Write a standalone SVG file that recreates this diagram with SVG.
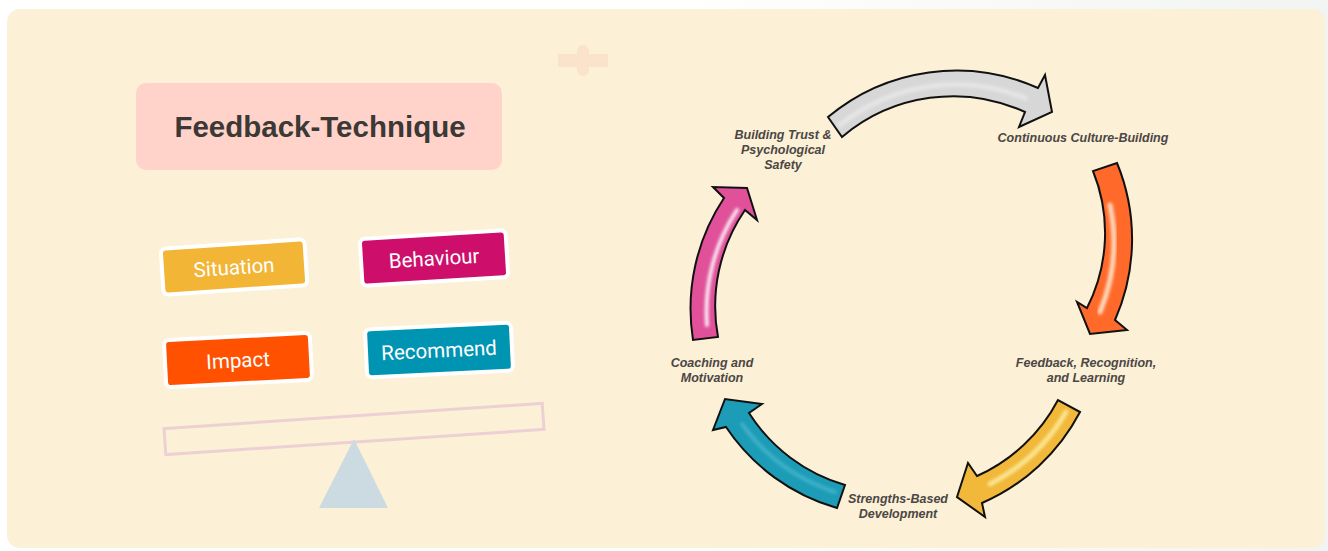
<svg xmlns="http://www.w3.org/2000/svg" width="1328" height="551" viewBox="0 0 1328 551">
<defs>
<linearGradient id="bgGrad" x1="0" y1="0" x2="1" y2="0">
<stop offset="0.5" stop-color="#ffffff"/>
<stop offset="1" stop-color="#f2f3f3"/>
</linearGradient>
<filter id="blur" x="-20%" y="-20%" width="140%" height="140%">
<feGaussianBlur stdDeviation="1.8"/>
</filter>
<style>
.note rect{stroke:#ffffff;stroke-width:4}
.note text{font-family:Roboto,"Liberation Sans",sans-serif;font-size:20.5px;fill:#ffffff;text-anchor:middle}
.lbl{font-family:"Liberation Sans",Arial,sans-serif;font-size:12.5px;font-weight:bold;font-style:italic;fill:#4a4744;text-anchor:middle}
.arrow{stroke:#111111;stroke-width:2;stroke-linejoin:miter}
.hl{fill:none;stroke-linecap:round;filter:url(#blur)}
</style>
</defs>
<rect x="0" y="0" width="1328" height="551" fill="url(#bgGrad)"/>
<rect x="7" y="9" width="1318" height="539" rx="13" fill="#fcf0d7"/>
<g id="plus" fill="#fbe3cb">
<rect x="558" y="54" width="50" height="13"/>
<rect x="577" y="45" width="12" height="31" rx="6"/>
</g>
<g id="title">
<rect x="136" y="83" width="366" height="87" rx="10" fill="#ffd3c9"/>
<text x="320" y="137" font-family="'Liberation Sans',Arial,sans-serif" font-size="29.5" font-weight="bold" fill="#3b3835" text-anchor="middle">Feedback-Technique</text>
</g>
<g id="note-situation" class="note" transform="translate(234,267) rotate(-3.8)">
<rect x="-72" y="-23" width="144" height="46" rx="5" fill="#f2b535"/>
<text x="0" y="7.5">Situation</text>
</g>
<g id="note-behaviour" class="note" transform="translate(434,258) rotate(-3.5)">
<rect x="-73" y="-23.5" width="146" height="47" rx="5" fill="#cd0f6b"/>
<text x="0" y="7.5">Behaviour</text>
</g>
<g id="note-impact" class="note" transform="translate(238,360) rotate(-3)">
<rect x="-73" y="-23.5" width="146" height="47" rx="5" fill="#ff5100"/>
<text x="0" y="7.5">Impact</text>
</g>
<g id="note-recommend" class="note" transform="translate(439,350) rotate(-2.7)">
<rect x="-73" y="-24" width="146" height="48" rx="5" fill="#0094b3"/>
<text x="0" y="7.5">Recommend</text>
</g>
<g id="seesaw">
<rect x="-189.5" y="-13" width="379" height="26" transform="translate(354,429) rotate(-3.8)" fill="none" stroke="#edd0d3" stroke-width="3"/>
<polygon points="354,439 319,508 388,508" fill="#ccdbe1"/>
</g>
<g id="connectors">
<g id="arrow-gray">
<path class="arrow" fill="#d7d7d7" d="M828,117 A200,200 0 0 1 1038,88 L1045,75 L1052,112 L1019,127 L1025,112 A172,172 0 0 0 842,137 Z"/>
<path class="hl" stroke="#ffffff" stroke-opacity="0.35" stroke-width="5" d="M840,125 A186,186 0 0 1 1025,98"/>
</g>
<g id="arrow-orange">
<path class="arrow" fill="#ff6a2a" d="M1117,163 A200,200 0 0 1 1115,320 L1127,330 L1090,334 L1077,302 L1087,308 A165,165 0 0 0 1093,171 Z"/>
<path class="hl" stroke="#fff2dc" stroke-opacity="0.8" stroke-width="5" d="M1110,205 A183,183 0 0 1 1100,312"/>
</g>
<g id="arrow-yellow">
<path class="arrow" fill="#f1b83a" d="M1080,412 A200,200 0 0 1 982,503 L985,517 L957,497 L968,463 L977,476 A170,170 0 0 0 1058,400 Z"/>
<path class="hl" stroke="#fff6b0" stroke-opacity="0.7" stroke-width="5" d="M1066,412 A185,185 0 0 1 990,484"/>
</g>
<g id="arrow-blue">
<path class="arrow" fill="#1c9cb7" d="M837,508 A200,200 0 0 1 726,427 L713,430 L725,399 L762,404 L749,413 A170,170 0 0 0 845,485 Z"/>
<path class="hl" stroke="#8fe0ee" stroke-opacity="0.3" stroke-width="4" d="M835,492 A185,185 0 0 1 742,424"/>
</g>
<g id="arrow-pink">
<path class="arrow" fill="#e0519a" d="M693,340 A200,200 0 0 1 724,198 L713,187 L747,188 L757,220 L745,210 A170,170 0 0 0 718,337 Z"/>
<path class="hl" stroke="#ffffff" stroke-opacity="0.85" stroke-width="4" d="M707,325 A185,185 0 0 1 737,210"/>
</g>
</g>
<g id="label-trust">
<text class="lbl" x="783" y="138.5">Building Trust &amp;</text>
<text class="lbl" x="783" y="153.5">Psychological</text>
<text class="lbl" x="783" y="168.5">Safety</text>
</g>
<g id="label-culture">
<text class="lbl" x="1083" y="142">Continuous Culture-Building</text>
</g>
<g id="label-feedback">
<text class="lbl" x="1086" y="366.5">Feedback, Recognition,</text>
<text class="lbl" x="1086" y="382">and Learning</text>
</g>
<g id="label-strengths">
<text class="lbl" x="898" y="502.5">Strengths-Based</text>
<text class="lbl" x="898" y="518">Development</text>
</g>
<g id="label-coaching">
<text class="lbl" x="712" y="366.5">Coaching and</text>
<text class="lbl" x="712" y="382">Motivation</text>
</g>
</svg>
